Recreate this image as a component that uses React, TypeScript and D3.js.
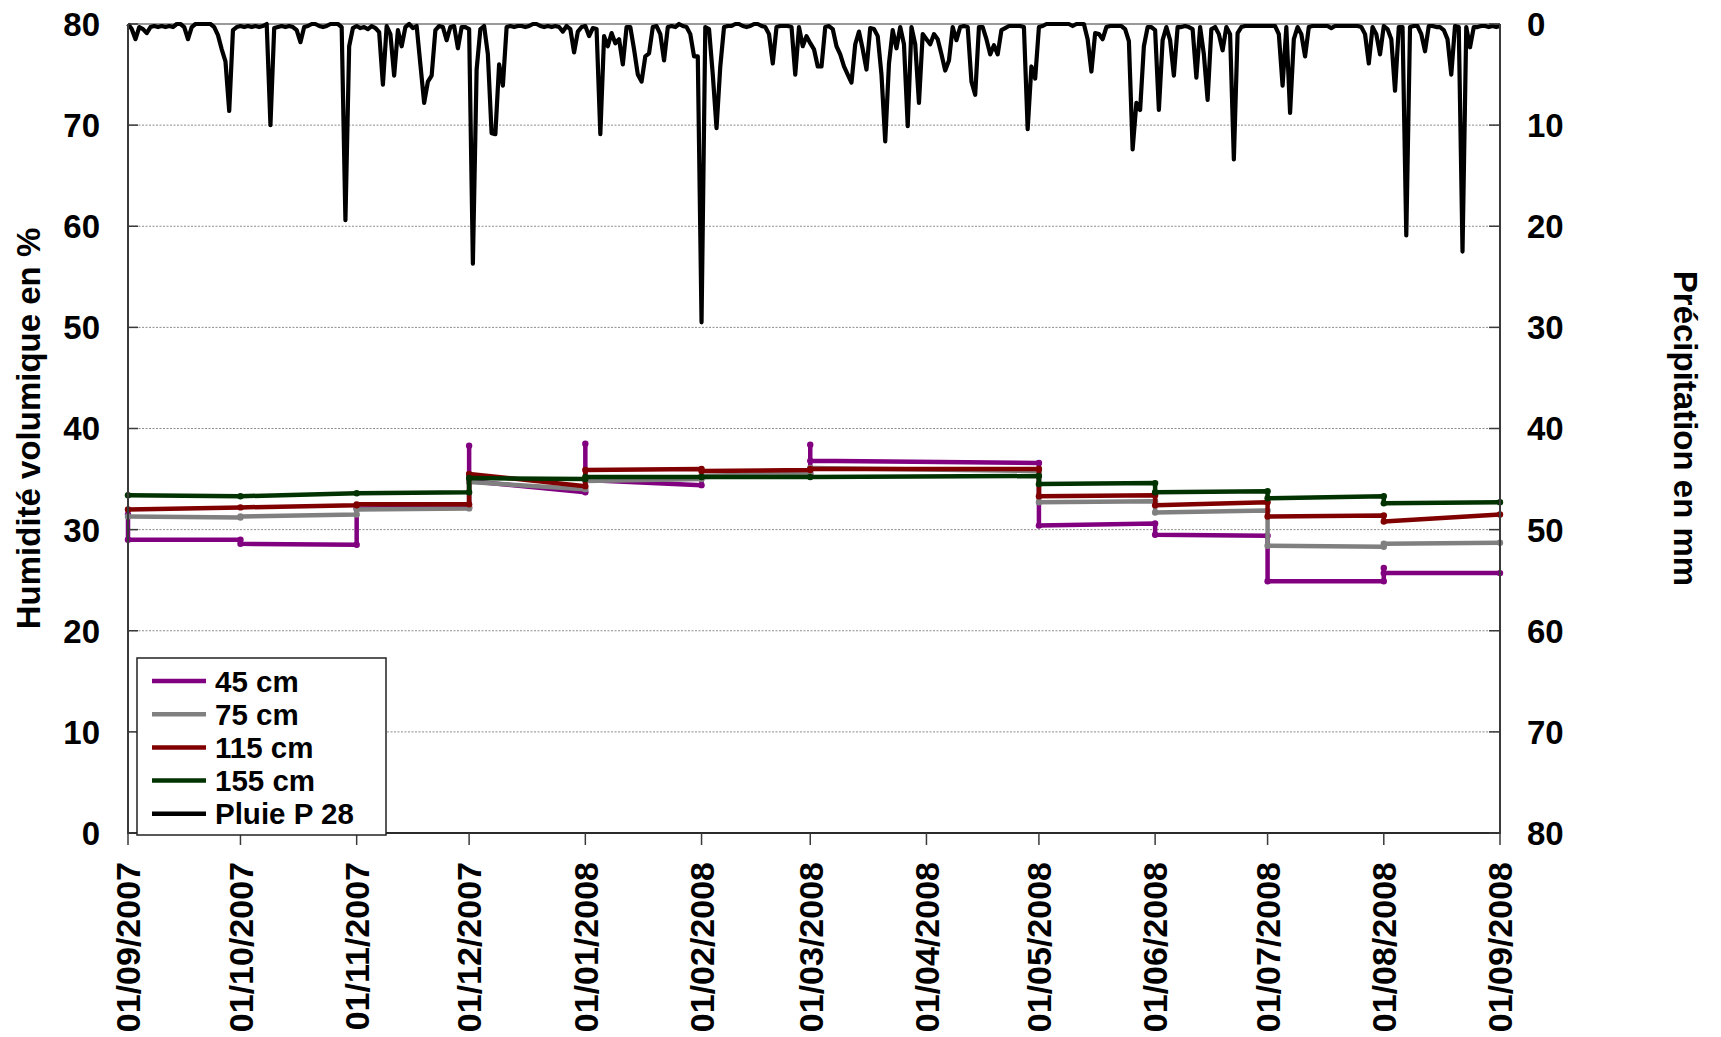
import * as d3 from 'd3';

const width = 1721;
const height = 1037;
const plot = { left: 128, right: 1500, top: 24, bottom: 833 };
const font = '"Liberation Sans", Arial, sans-serif';

// dates of the soil moisture readings (d/m/Y on the chart)
const humDates = [
  '2007-09-01', '2007-10-01', '2007-11-01', '2007-12-01', '2008-01-01', '2008-02-01',
  '2008-03-01', '2008-05-01', '2008-06-01', '2008-07-01', '2008-08-01', '2008-09-01',
];

// values read on each date, in drawing order (jumps are vertical)
const hum45 = [
  [31.5, 29.0], [29.0, 28.6], [28.5, 32.1], [32.2, 38.3, 34.8], [33.7, 38.5, 34.9], [34.4, 35.2],
  [35.5, 38.4, 36.8], [36.6, 30.4], [30.6, 29.5], [29.4, 24.9], [24.9, 26.2, 25.7], [25.7],
];
const hum75 = [
  [31.3], [31.2, 31.3], [31.5, 32.0], [32.1, 34.7], [34.0, 34.8], [35.0, 35.3],
  [35.6, 36.1], [35.8, 32.7], [32.8, 31.7], [31.9, 28.4], [28.3, 28.6], [28.7],
];
const hum115 = [
  [32.0], [32.2], [32.4, 32.5], [32.5, 35.5], [34.3, 35.9], [36.0, 35.8],
  [35.9, 36.0], [36.0, 33.3], [33.4, 32.4], [32.7, 31.3], [31.4, 30.8], [31.5],
];
const hum155 = [
  [33.4], [33.3], [33.6], [33.7, 35.1], [35.0, 35.2], [35.2],
  [35.2], [35.3, 34.5], [34.6, 33.7], [33.8, 33.1], [33.3, 32.6], [32.7],
];

// daily rain (mm), one array per month
const rainSep07 = [0, 0.5, 1.5, 0.3, 0.5, 0.9, 0.3, 0.2, 0.3, 0.2, 0.3, 0.2, 0.3, 0, 0, 0.3, 1.5, 0.3, 0, 0, 0, 0, 0, 0.3, 1.1, 2.5, 3.7, 8.6, 0.6, 0.3];
const rainOct07 = [0.2, 0.3, 0.2, 0.3, 0.2, 0.3, 0.2, 0, 10.0, 0.4, 0.3, 0.2, 0.3, 0.2, 0.3, 0.6, 1.8, 0.3, 0.2, 0, 0, 0.2, 0.3, 0.2, 0, 0, 0, 0.3, 19.4, 2.2, 0.4];
const rainNov07 = [0.2, 0.4, 0.3, 0.5, 0.2, 0.4, 0.8, 6.0, 0.2, 1.0, 5.1, 0.6, 2.2, 0.3, 0, 0.4, 0.2, 4.0, 7.8, 5.7, 5.1, 0.6, 0.2, 0.3, 1.6, 0.3, 0.2, 2.4, 0.3, 0.3];
const rainDec07 = [0.5, 23.7, 4.5, 0.5, 0.2, 3.0, 10.8, 10.9, 4.0, 6.1, 0.3, 0.2, 0.3, 0.2, 0.2, 0.3, 0.2, 0, 0, 0.2, 0.3, 0.2, 0.3, 0.2, 0.3, 0.75, 0.2, 0.5, 2.8, 0.75, 0.3];
const rainJan08 = [0.2, 1.2, 0.4, 0.5, 10.9, 1.2, 2.2, 0.9, 1.9, 1.5, 4.0, 0.3, 0.3, 2.5, 5.0, 5.7, 3.2, 2.9, 0.3, 0.2, 1.0, 3.6, 0.3, 0.2, 0.3, 0, 0.2, 0.3, 1.0, 3.2, 3.2];
const rainFeb08 = [29.5, 0.3, 0.5, 5.0, 10.3, 4.2, 0.3, 0.2, 0.2, 0, 0, 0.2, 0.3, 0.2, 0, 0, 0.2, 0.3, 1.0, 3.9, 0.3, 0.2, 0.2, 0.2, 0.3, 5.0, 0.3, 2.2, 1.2];
const rainMar08 = [1.9, 2.5, 4.2, 4.2, 0.3, 0.2, 0.5, 2.2, 3.0, 4.2, 5.0, 5.8, 2.0, 0.75, 2.5, 4.5, 0.4, 0.5, 1.2, 5.0, 11.6, 3.9, 0.6, 2.4, 0.3, 2.0, 10.1, 0.3, 2.0, 7.8, 1.0];
const rainApr08 = [1.5, 2.0, 1.0, 1.5, 3.0, 4.6, 3.6, 0.3, 1.6, 0.3, 0.2, 0.3, 5.7, 7.0, 0.3, 0.3, 1.5, 3.0, 2.1, 3.0, 0.6, 0.4, 0.2, 0.2, 0.2, 0.2, 0.3, 10.4, 4.2, 5.4];
const rainMay08 = [0.3, 0.2, 0, 0, 0, 0, 0, 0, 0, 0.2, 0, 0, 0, 1.5, 4.7, 0.9, 1.0, 1.5, 0.3, 0.2, 0.2, 0.2, 0.2, 0.5, 1.7, 12.4, 7.8, 8.5, 2.2, 0.3, 0.3];
const rainJun08 = [0.6, 8.5, 1.6, 0.3, 1.6, 5.1, 0.3, 0.3, 0.2, 0.3, 0.5, 5.3, 0.3, 3.0, 7.5, 0.5, 0.3, 1.0, 2.6, 0.3, 1.0, 13.4, 0.9, 0.3, 0.2, 0.2, 0.2, 0.2, 0.2, 0.2];
const rainJul08 = [0.2, 0.2, 0.2, 1.0, 6.1, 0.3, 8.8, 1.5, 0.3, 1.0, 3.2, 0.3, 0.2, 0.2, 0.2, 0.2, 0.2, 0.4, 0.2, 0.2, 0.2, 0.2, 0.2, 0.2, 0.2, 0.3, 1.0, 3.9, 0.3, 1.0, 3.0];
const rainAug08 = [0.2, 0.5, 1.5, 6.6, 0.3, 0.3, 20.9, 0.3, 0.2, 0.2, 1.0, 2.7, 0.2, 0.2, 0.3, 0.3, 0.6, 1.5, 5.0, 0.2, 0.3, 22.5, 0.3, 2.3, 0.3, 0.3, 0.2, 0.2, 0.3, 0.2, 0.3];
const rainSep08 = [0.2];

const tickLabels = [
  '01/09/2007', '01/10/2007', '01/11/2007', '01/12/2007', '01/01/2008', '01/02/2008', '01/03/2008',
  '01/04/2008', '01/05/2008', '01/06/2008', '01/07/2008', '01/08/2008', '01/09/2008',
];
const yTicks = [0, 10, 20, 30, 40, 50, 60, 70, 80];

const series = [
  { name: '45 cm', color: '#800080', values: hum45 },
  { name: '75 cm', color: '#808080', values: hum75 },
  { name: '115 cm', color: '#800000', values: hum115 },
  { name: '155 cm', color: '#003300', values: hum155 },
];

const parseDate = (s: string) => {
  const [y, m, d] = s.split('-').map(Number);
  return new Date(Date.UTC(y, m - 1, d));
};
const parseLabel = (s: string) => {
  const [d, m, y] = s.split('/').map(Number);
  return new Date(Date.UTC(y, m - 1, d));
};

export default function App() {
  const x = d3
    .scaleUtc()
    .domain([parseDate('2007-09-01'), parseDate('2008-09-01')])
    .range([plot.left, plot.right]);
  const yLeft = d3.scaleLinear().domain([0, 80]).range([plot.bottom, plot.top]);
  const yRight = d3.scaleLinear().domain([0, 80]).range([plot.top, plot.bottom]);

  const humLine = d3
    .line<[Date, number]>()
    .x((d) => x(d[0]))
    .y((d) => yLeft(d[1]));

  const toPoints = (vals: number[][]) => {
    const pts: [Date, number][] = [];
    vals.forEach((vs, i) => vs.forEach((v) => pts.push([parseDate(humDates[i]), v])));
    return pts;
  };

  const rain = [
    rainSep07, rainOct07, rainNov07, rainDec07, rainJan08, rainFeb08, rainMar08,
    rainApr08, rainMay08, rainJun08, rainJul08, rainAug08, rainSep08,
  ].flat();
  const start = parseDate('2007-09-01');
  const rainPts: [Date, number][] = rain.map((v, i) => [
    new Date(Date.UTC(start.getUTCFullYear(), start.getUTCMonth(), start.getUTCDate() + i)),
    v,
  ]);
  const rainLine = d3
    .line<[Date, number]>()
    .x((d) => x(d[0]))
    .y((d) => yRight(d[1]));

  const legendItems = [...series.map((s) => ({ name: s.name, color: s.color })), { name: 'Pluie P 28', color: '#000000' }];
  const legend = { x: 137, y: 658, w: 249, h: 177, row: 33.2 };

  const textStyle = { fontFamily: font, fontWeight: 700, fontSize: 33, fill: '#000' };

  return (
    <svg width={width} height={height} style={{ position: 'absolute', left: 0, top: 0, background: '#fff' }}>
      {/* grid */}
      {yTicks.slice(1, -1).map((t) => (
        <line key={t} x1={plot.left} x2={plot.right} y1={yLeft(t)} y2={yLeft(t)} stroke="#8c8c8c" strokeWidth={1} strokeDasharray="2 1.5" />
      ))}
      <line x1={plot.left} x2={plot.right} y1={plot.top} y2={plot.top} stroke="#9a9a9a" strokeWidth={2} />

      {/* soil moisture */}
      {series.map((s) => {
        const pts = toPoints(s.values);
        return (
          <g key={s.name}>
            <path d={humLine(pts) || ''} fill="none" stroke={s.color} strokeWidth={4.5} strokeLinejoin="round" />
            {pts.map((p, i) => (
              <circle key={i} cx={x(p[0])} cy={yLeft(p[1])} r={3.2} fill={s.color} />
            ))}
          </g>
        );
      })}

      {/* rain */}
      <path d={rainLine(rainPts) || ''} fill="none" stroke="#000" strokeWidth={4.2} strokeLinejoin="round" />

      {/* axes */}
      <line x1={plot.left} x2={plot.left} y1={plot.top} y2={plot.bottom + 1} stroke="#3a3a3a" strokeWidth={2} />
      <line x1={plot.right} x2={plot.right} y1={plot.top} y2={plot.bottom + 1} stroke="#3a3a3a" strokeWidth={2} />
      <line x1={plot.left} x2={plot.right} y1={plot.bottom} y2={plot.bottom} stroke="#2a2a2a" strokeWidth={2} />

      {yTicks.map((t) => (
        <g key={'l' + t}>
          <line x1={plot.left} x2={plot.left + 10} y1={yLeft(t)} y2={yLeft(t)} stroke="#3a3a3a" strokeWidth={1.5} />
          <text x={100} y={yLeft(t)} dy="0.36em" textAnchor="end" style={textStyle}>
            {t}
          </text>
        </g>
      ))}
      {yTicks.map((t) => (
        <g key={'r' + t}>
          <line x1={plot.right - 11} x2={plot.right} y1={yRight(t)} y2={yRight(t)} stroke="#3a3a3a" strokeWidth={1.5} />
          <text x={1527} y={yRight(t)} dy="0.36em" textAnchor="start" style={textStyle}>
            {t}
          </text>
        </g>
      ))}

      {tickLabels.map((lab) => {
        const tx = x(parseLabel(lab));
        return (
          <g key={lab}>
            <line x1={tx} x2={tx} y1={plot.bottom} y2={plot.bottom + 12} stroke="#3a3a3a" strokeWidth={1.5} />
            <text transform={`translate(${tx},862) rotate(-90)`} dy="0.36em" textAnchor="end" style={{ ...textStyle, fontSize: 34 }}>
              {lab}
            </text>
          </g>
        );
      })}

      {/* axis titles */}
      <text transform={`translate(28,${(plot.top + plot.bottom) / 2}) rotate(-90)`} dy="0.36em" textAnchor="middle" style={textStyle}>
        Humidité volumique en %
      </text>
      <text transform={`translate(1686,${(plot.top + plot.bottom) / 2}) rotate(90)`} dy="0.36em" textAnchor="middle" style={textStyle}>
        Précipitation en mm
      </text>

      {/* legend */}
      <rect x={legend.x} y={legend.y} width={legend.w} height={legend.h} fill="#fff" stroke="#222" strokeWidth={1.5} />
      {legendItems.map((it, i) => {
        const ly = legend.y + 23 + i * legend.row;
        return (
          <g key={it.name}>
            <line x1={152} x2={206} y1={ly} y2={ly} stroke={it.color} strokeWidth={4.5} />
            <text x={215} y={ly} dy="0.36em" style={{ ...textStyle, fontSize: 29.5 }}>
              {it.name}
            </text>
          </g>
        );
      })}
    </svg>
  );
}
